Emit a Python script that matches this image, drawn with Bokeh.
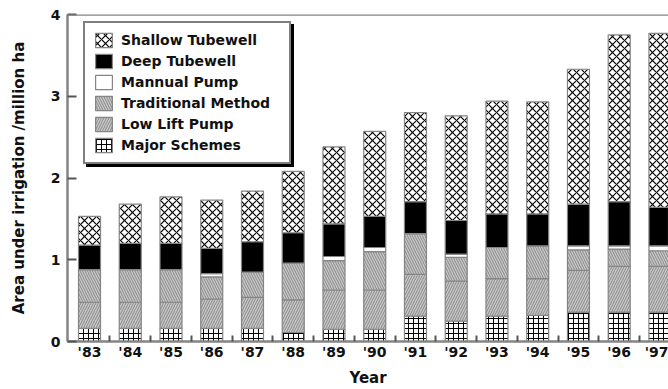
from bokeh.plotting import figure
from bokeh.models import ColumnDataSource, FixedTicker, Legend, LegendItem, Span
from bokeh.embed import file_html
from bokeh.resources import INLINE

years = ["'83", "'84", "'85", "'86", "'87", "'88", "'89", "'90", "'91", "'92", "'93", "'94", "'95", "'96", "'97"]
major_schemes = [0.16, 0.16, 0.16, 0.16, 0.16, 0.11, 0.15, 0.15, 0.31, 0.25, 0.31, 0.32, 0.36, 0.36, 0.36]
low_lift_pump = [0.32, 0.32, 0.32, 0.36, 0.38, 0.40, 0.48, 0.48, 0.51, 0.49, 0.46, 0.45, 0.51, 0.56, 0.56]
traditional = [0.40, 0.40, 0.40, 0.27, 0.31, 0.45, 0.36, 0.47, 0.50, 0.29, 0.38, 0.40, 0.25, 0.21, 0.19]
mannual_pump = [0.00, 0.00, 0.00, 0.04, 0.00, 0.00, 0.05, 0.05, 0.00, 0.04, 0.00, 0.00, 0.05, 0.04, 0.06]
deep_tubewell = [0.30, 0.32, 0.32, 0.31, 0.37, 0.37, 0.40, 0.38, 0.39, 0.41, 0.41, 0.39, 0.51, 0.54, 0.47]
shallow_tubewell = [0.35, 0.48, 0.57, 0.59, 0.62, 0.75, 0.94, 1.04, 1.09, 1.28, 1.38, 1.37, 1.65, 2.04, 2.13]

series = ["major", "llp", "trad", "manual", "deep", "shallow"]
labels = ["Major Schemes", "Low Lift Pump", "Traditional Method", "Mannual Pump", "Deep Tubewell", "Shallow Tubewell"]

xs = list(range(len(years)))
source = ColumnDataSource(dict(x=xs, major=major_schemes, llp=low_lift_pump, trad=traditional,
                               manual=mannual_pump, deep=deep_tubewell, shallow=shallow_tubewell))

FONT = "DejaVu Sans"
GRAY = "#858585"
TXT = "#111111"

p = figure(width=668, height=389, x_range=(-0.54, 14.21), y_range=(0, 4),
           output_backend="svg", toolbar_location=None,
           min_border_left=67, min_border_right=0, min_border_top=14, min_border_bottom=48)
p.outline_line_color = None
p.grid.visible = False
p.background_fill_color = "white"

renderers = p.vbar_stack(series, x="x", width=0.54, source=source,
                         fill_color=["white", "#c6c6c6", "#c6c6c6", "white", "black", "white"],
                         hatch_pattern=["cross", "right_diagonal_line", "left_diagonal_line", " ", " ", "diagonal_cross"],
                         hatch_color=["black", "#8a8a8a", "#8a8a8a", "black", "black", "black"],
                         hatch_scale=[5, 5, 5, 5, 5, 8],
                         hatch_weight=[1, 1, 1, 1, 1, 1.2],
                         line_color=GRAY, line_width=1.2)

legend_kw = dict(margin=0, padding=8, spacing=3, glyph_width=21, glyph_height=18,
                 label_height=18, label_width=160, label_standoff=7, label_text_font=FONT,
                 label_text_font_style="bold", label_text_font_size="14px",
                 border_line_width=2, background_fill_alpha=1.0)

# drop shadow of the legend box (same size, no label text)
shadow_items = [LegendItem(label="", renderers=[r]) for r in renderers][::-1]
shadow = Legend(items=shadow_items, location=(19, 174),
                border_line_color="black", background_fill_color="black", **legend_kw)
p.add_layout(shadow, "center")

items = [LegendItem(label=lab, renderers=[r]) for lab, r in zip(labels, renderers)][::-1]
legend = Legend(items=items, location=(16, 177), label_text_color=TXT,
                border_line_color="black", background_fill_color="white", **legend_kw)
p.add_layout(legend, "center")

p.add_layout(Span(location=4, dimension="width", line_color=GRAY, line_width=2.5))

xa = p.xaxis[0]
xa.ticker = FixedTicker(ticks=xs, minor_ticks=[i + 0.5 for i in xs])
xa.major_label_overrides = {i: y for i, y in zip(xs, years)}
xa.major_tick_line_color = None
xa.major_tick_in = 0
xa.major_tick_out = 0
xa.minor_tick_line_color = "#555555"
xa.minor_tick_line_width = 2
xa.minor_tick_in = 6
xa.minor_tick_out = 0
xa.axis_label = "Year"
xa.axis_label_standoff = 6
xa.major_label_standoff = 2

ya = p.yaxis[0]
ya.ticker = FixedTicker(ticks=[0, 1, 2, 3, 4])
ya.major_tick_in = 9
ya.major_tick_out = 0
ya.major_tick_line_color = "#555555"
ya.major_tick_line_width = 2
ya.minor_tick_line_color = None
ya.axis_label = "Area under irrigation /million ha"
ya.axis_label_standoff = 20
ya.major_label_standoff = 7

for ax in (xa, ya):
    ax.axis_line_color = GRAY
    ax.axis_line_width = 2.5
    ax.major_label_text_font = FONT
    ax.major_label_text_font_style = "bold"
    ax.major_label_text_font_size = "14px"
    ax.major_label_text_color = TXT
    ax.axis_label_text_font = FONT
    ax.axis_label_text_font_style = "bold"
    ax.axis_label_text_font_size = "15px"
    ax.axis_label_text_color = TXT

open("out.html", "w").write(file_html(p, INLINE))
